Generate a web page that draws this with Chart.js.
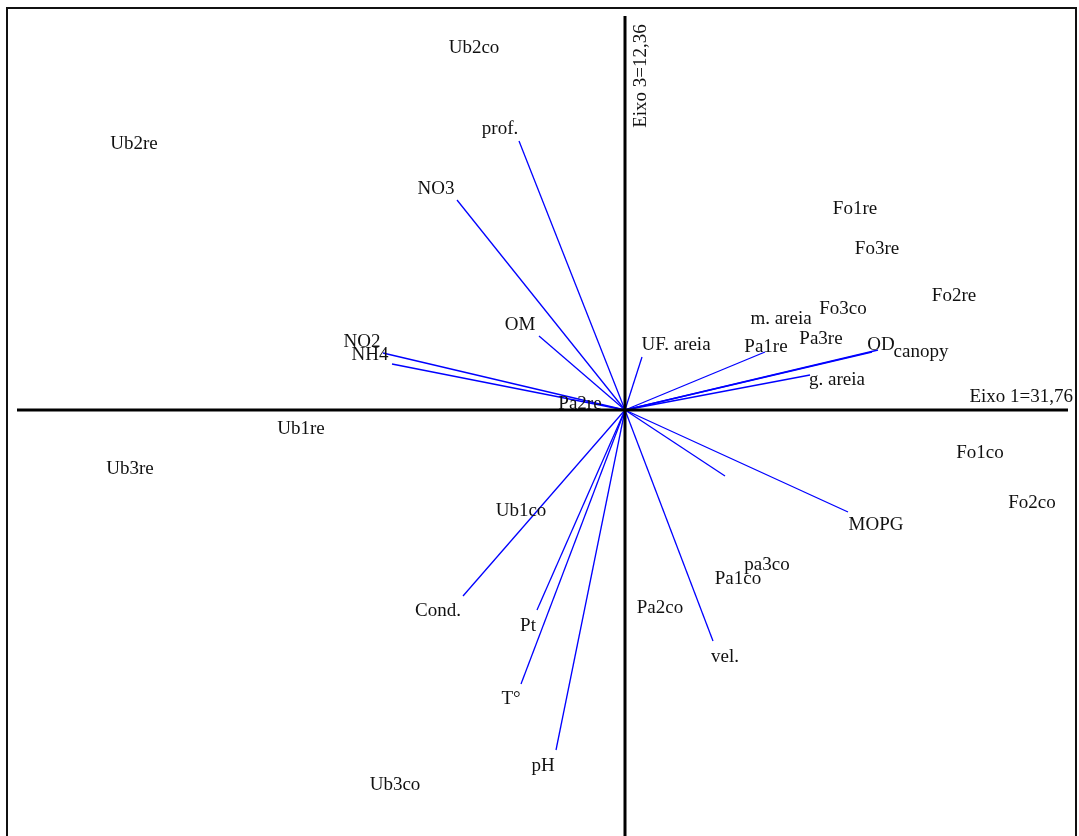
<!DOCTYPE html>
<html>
<head>
<meta charset="utf-8">
<style>
  html, body { margin: 0; padding: 0; background: #fff; overflow: hidden; }
  #wrap { width: 1079px; height: 836px; }
</style>
<script src="https://cdn.jsdelivr.net/npm/chart.js@4/dist/chart.umd.min.js"></script>
</head>
<body>
<div id="wrap"><canvas id="biplot" width="1079" height="836"></canvas></div>
<script>
// Environmental variables: arrow tips on axes 1 and 3
const varNames = ['prof.', 'NO3', 'OM', 'NO2', 'NH4', 'UF. areia', 'm. areia', 'OD', 'canopy',
                  'g. areia', 'MOPG', '', 'vel.', 'Cond.', 'Pt', 'T°', 'pH'];
const varX = [-1.06, -1.68, -0.86, -2.42, -2.33, 0.17, 1.40, 2.53, 2.47, 1.85, 2.23, 1.00, 0.88, -1.62, -0.88, -1.04, -0.69];
const varY = [ 2.69,  2.10,  0.74,  0.57,  0.46, 0.53, 0.58, 0.60, 0.58, 0.35, -1.02, -0.66, -2.31, -1.86, -2.00, -2.74, -3.40];
// Where each variable name is written
const varLabelX = [-1.25, -1.89, -1.05, -2.63, -2.55, 0.51, 1.56, 2.56, 2.96, 2.12, 2.51, 0, 1.00, -1.87, -0.97, -1.14, -0.82];
const varLabelY = [ 2.83,  2.23,  0.87,  0.70,  0.57, 0.67, 0.93, 0.67, 0.60, 0.32, -1.13, 0, -2.45, -1.99, -2.14, -2.87, -3.54];

// Sampling sites: scores on axes 1 and 3
const siteNames = ['Ub2co', 'Ub2re', 'Fo1re', 'Fo3re', 'Fo2re', 'Fo3co', 'Pa3re', 'Pa1re', 'Pa2re',
                   'Ub1re', 'Ub3re', 'Fo1co', 'Fo2co', 'Ub1co', 'pa3co', 'Pa1co', 'Pa2co', 'Ub3co'];
const siteX = [-1.51, -4.91, 2.30, 2.52, 3.29, 2.18, 1.96, 1.41, -0.45, -3.24, -4.95, 3.55, 4.07, -1.04, 1.42, 1.13, 0.35, -2.30];
const siteY = [ 3.64,  2.68, 2.03, 1.63, 1.16, 1.03, 0.73, 0.65,  0.08, -0.17, -0.57, -0.41, -0.91, -0.99, -1.53, -1.67, -1.96, -3.73];

// Axis titles (explained variance, %)
const axisTitles = ['Eixo 1=31,76', 'Eixo 3=12,36'];

// Plot window and drawn extents of the two axis lines
const xRange = [-6.25, 4.54];
const yRange = [-4.26, 4.10];
const hAxisSpan = [-6.08, 4.43];
const vAxisSpan = [-4.40, 3.94];
const frameBox = { left: -6.18, right: 4.51, top: 4.02, bottom: -4.60 };

const FONT = "19px 'Liberation Serif', 'Times New Roman', serif";
const TEXT = '#111';
const TEXT_DY = 2; // nudge so the middle baseline sits on the glyph centre

const datasets = [];

// Outer frame (open at the bottom edge of the view)
datasets.push({
  data: [
    { x: frameBox.left, y: frameBox.bottom }, { x: frameBox.left, y: frameBox.top },
    { x: frameBox.right, y: frameBox.top }, { x: frameBox.right, y: frameBox.bottom }
  ],
  showLine: true, borderColor: '#111', borderWidth: 2, pointRadius: 0, fill: false
});

// Ordination axes through the origin
datasets.push({
  data: [{ x: hAxisSpan[0], y: 0 }, { x: hAxisSpan[1], y: 0 }],
  showLine: true, borderColor: '#000', borderWidth: 3, pointRadius: 0
});
datasets.push({
  data: [{ x: 0, y: vAxisSpan[0] }, { x: 0, y: vAxisSpan[1] }],
  showLine: true, borderColor: '#000', borderWidth: 3, pointRadius: 0
});

// Variable arrows from the origin
varNames.forEach((n, i) => {
  datasets.push({
    data: [{ x: 0, y: 0 }, { x: varX[i], y: varY[i] }],
    showLine: true, borderColor: '#0000ff', borderWidth: 1.3, pointRadius: 0
  });
});

// Sites as invisible points, named by the label plugin
datasets.push({
  data: siteX.map((x, i) => ({ x, y: siteY[i] })),
  pointRadius: 0, showLine: false
});

const labelPlugin = {
  id: 'biplotLabels',
  afterDatasetsDraw(chart) {
    const { ctx, scales: { x, y } } = chart;
    ctx.save();
    ctx.font = FONT;
    ctx.fillStyle = TEXT;
    ctx.textAlign = 'center';
    ctx.textBaseline = 'middle';
    siteNames.forEach((n, i) => {
      ctx.fillText(n, x.getPixelForValue(siteX[i]), y.getPixelForValue(siteY[i]) + TEXT_DY);
    });
    varNames.forEach((n, i) => {
      if (!n) return;
      ctx.fillText(n, x.getPixelForValue(varLabelX[i]), y.getPixelForValue(varLabelY[i]) + TEXT_DY);
    });
    // Axis 1 title, right-aligned above the horizontal axis end
    ctx.textAlign = 'right';
    ctx.fillText(axisTitles[0], x.getPixelForValue(4.48), y.getPixelForValue(0.15) + TEXT_DY);
    // Axis 3 title, written upward beside the vertical axis
    ctx.translate(x.getPixelForValue(0.14) + TEXT_DY, y.getPixelForValue(3.34));
    ctx.rotate(-Math.PI / 2);
    ctx.textAlign = 'center';
    ctx.fillText(axisTitles[1], 0, 0);
    ctx.restore();
  }
};

new Chart(document.getElementById('biplot'), {
  type: 'scatter',
  data: { datasets },
  options: {
    responsive: false,
    animation: false,
    layout: { padding: 0 },
    plugins: { legend: { display: false }, tooltip: { enabled: false } },
    elements: { line: { tension: 0 } },
    scales: {
      x: { type: 'linear', display: false, min: xRange[0], max: xRange[1] },
      y: { type: 'linear', display: false, min: yRange[0], max: yRange[1] }
    }
  },
  plugins: [labelPlugin]
});
</script>
</body>
</html>
